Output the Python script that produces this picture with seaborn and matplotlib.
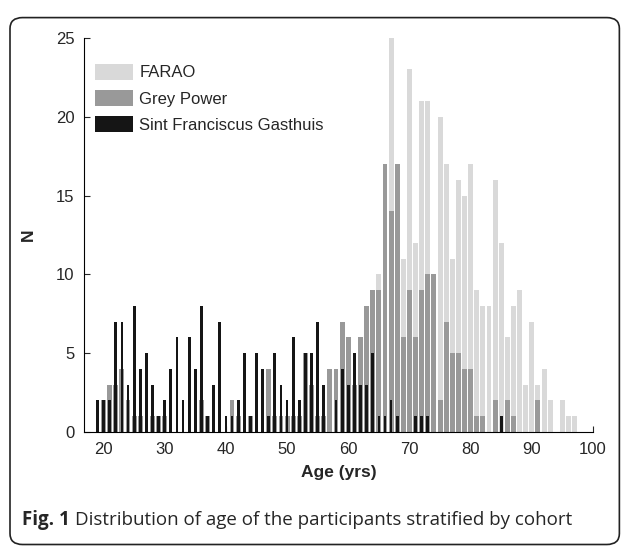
import numpy as np
import pandas as pd
import matplotlib
matplotlib.use("Agg")
import matplotlib.pyplot as plt
import seaborn as sns
from matplotlib.patches import Patch, FancyBboxPatch

# ages 19..97, counts per cohort
ages = list(range(19, 98))

farao = [0] * 46 + [
    10, 0, 25, 0, 11, 23, 12, 21, 21, 0,   # 65-74
    20, 17, 11, 16, 15, 17, 9, 8, 8, 16,   # 75-84
    12, 6, 8, 9, 3, 7, 3, 4, 2, 0,         # 85-94
    2, 1, 1,                               # 95-97
]

grey_power = [
    0, 2, 3, 3, 4, 2, 1, 1, 0, 1, 1,       # 19-29
    1, 0, 0, 0, 0, 0, 2, 1, 0, 0,          # 30-39
    0, 2, 1, 0, 1, 0, 0, 4, 1, 1,          # 40-49
    1, 1, 1, 5, 3, 1, 1, 4, 4, 7,          # 50-59
    6, 3, 6, 8, 9, 9, 17, 14, 17, 6,       # 60-69
    9, 6, 9, 10, 10, 2, 7, 5, 5, 4,        # 70-79
    4, 1, 1, 0, 2, 0, 2, 1, 0, 0,          # 80-89
    0, 2, 0, 0, 0, 0, 0, 0,                # 90-97
]

sint_franciscus = [
    2, 2, 2, 7, 7, 3, 8, 4, 5, 3, 1,       # 19-29
    2, 4, 6, 2, 6, 4, 8, 1, 3, 7,          # 30-39
    1, 1, 2, 5, 1, 5, 4, 1, 5, 3,          # 40-49
    2, 6, 2, 5, 5, 7, 3, 0, 2, 4,          # 50-59
    3, 5, 3, 3, 5, 1, 1, 2, 1, 0,          # 60-69
    0, 1, 1, 1, 0, 0, 0, 0, 0, 0,          # 70-79
    0, 0, 0, 0, 0, 1, 0, 0, 0, 0,          # 80-89
    0, 0, 0, 0, 0, 0, 0, 0,                # 90-97
]

cohorts = ["FARAO", "Grey Power", "Sint Franciscus Gasthuis"]
colors = ["#d9d9d9", "#999999", "#151515"]
widths = [0.8, 0.8, 0.45]

sns.set_style("white")
plt.rcParams["font.family"] = ["Liberation Sans", "DejaVu Sans"]

fig = plt.figure(figsize=(6.25, 5.5), dpi=100)
ax = fig.add_axes([0.1344, 0.2145, 0.8144, 0.7165])

for name, counts, col, w in zip(cohorts, [farao, grey_power, sint_franciscus], colors, widths):
    df = pd.DataFrame({"age": ages, "n": counts})
    sns.histplot(data=df, x="age", weights="n", discrete=True, shrink=w,
                 color=col, alpha=1, linewidth=0, ax=ax)

ax.set_xlim(16.8, 100)
ax.set_ylim(0, 25)
ax.set_xticks(range(20, 101, 10))
ax.set_yticks(range(0, 26, 5))
ax.tick_params(axis="both", direction="in", length=4, labelsize=12, width=0.8,
               bottom=True, left=True, pad=7)
for s in ["top", "right"]:
    ax.spines[s].set_visible(False)
for s in ["left", "bottom"]:
    ax.spines[s].set_color("black")
    ax.spines[s].set_linewidth(0.8)

ax.set_xlabel("Age (yrs)", fontsize=12.5, fontweight="bold", labelpad=6)
ax.set_ylabel("N", fontsize=12.5, fontweight="bold", labelpad=14)

handles = [Patch(facecolor=c, edgecolor="none") for c in colors]
ax.legend(handles, cohorts, loc="upper left", bbox_to_anchor=(0.022, 0.935),
          frameon=False, fontsize=12, handlelength=2.25, handleheight=1.15,
          handletextpad=0.4, labelspacing=0.55, borderaxespad=0, borderpad=0)

# rounded frame around the figure
frame = FancyBboxPatch((0.016, 0.01), 0.975, 0.958, boxstyle="round,pad=0,rounding_size=0.02",
                       transform=fig.transFigure, facecolor="none", edgecolor="#222222",
                       linewidth=1.2)
fig.patches.append(frame)

# caption
t1 = fig.text(0.035, 0.045, "Fig. 1", fontsize=13.5, fontweight="bold",
              family=["Open Sans", "DejaVu Sans"])
fig.canvas.draw()
bb = t1.get_window_extent().transformed(fig.transFigure.inverted())
fig.text(bb.x1 + 0.008, 0.045, "Distribution of age of the participants stratified by cohort",
         fontsize=13.5, family=["Open Sans", "DejaVu Sans"])

fig.savefig("out.png", dpi=100)
